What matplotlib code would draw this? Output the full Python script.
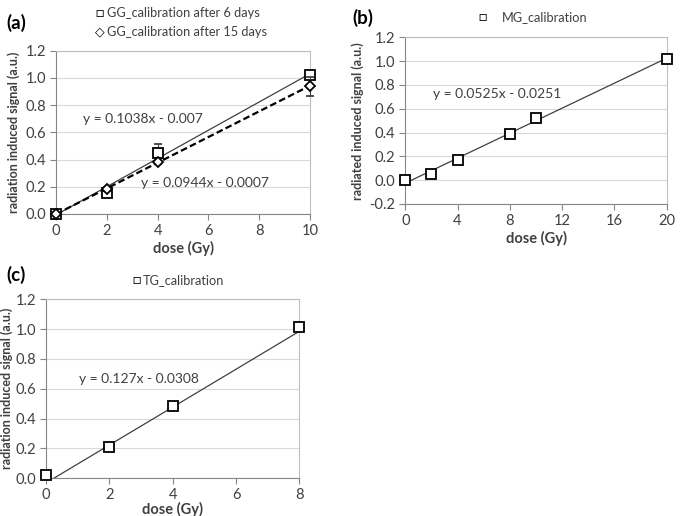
import matplotlib
matplotlib.use("Agg")
import matplotlib.pyplot as plt
import numpy as np

plt.rcParams['font.family'] = ['Lato', 'DejaVu Sans']
plt.rcParams['font.size'] = 10

# (a) GG calibration
gg_dose = [0, 2, 4, 10]
gg6_signal = [0.0, 0.155, 0.45, 1.02]
gg6_err = [0.01, 0.02, 0.065, 0.015]
gg15_signal = [0.0, 0.185, 0.38, 0.94]
gg15_err = [0.01, 0.015, 0.01, 0.07]
gg6_fit = (0.1038, -0.007)
gg15_fit = (0.0944, -0.0007)

# (b) MG calibration
mg_dose = [0, 2, 4, 8, 10, 20]
mg_signal = [0.0, 0.055, 0.17, 0.385, 0.52, 1.02]
mg_fit = (0.0525, -0.0251)

# (c) TG calibration
tg_dose = [0, 2, 4, 8]
tg_signal = [0.02, 0.21, 0.485, 1.015]
tg_fit = (0.127, -0.0308)

TXT = '#404040'
GRID = '#d9d9d9'
SPINE = '#868686'
EQ_SIZE = 10
LEG_SIZE = 9.2


def style_ax(ax, xlim, ylim, xticks, yticks, ylabel, xpad=2, ypad=4):
    ax.set_xlim(*xlim)
    ax.set_ylim(*ylim)
    ax.set_xticks(xticks)
    ax.set_yticks(yticks)
    ax.set_yticklabels([f"{v:.1f}" for v in yticks])
    ax.yaxis.grid(True, color=GRID, linewidth=0.8)
    ax.set_axisbelow(True)
    for s in ['top', 'right']:
        ax.spines[s].set_color('#bfbfbf')
        ax.spines[s].set_linewidth(0.8)
    for s in ['left', 'bottom']:
        ax.spines[s].set_color(SPINE)
        ax.spines[s].set_linewidth(0.8)
    ax.tick_params(direction='out', length=4, width=0.8, color=SPINE,
                   labelcolor=TXT, labelsize=10.6, pad=3)
    ax.set_xlabel('dose (Gy)', fontweight='bold', color=TXT, fontsize=10.5, labelpad=xpad)
    ax.set_ylabel(ylabel, fontweight='bold', color=TXT, fontsize=9, labelpad=ypad)


def fit_line(ax, fit, x0, x1, **kw):
    xs = np.array([x0, x1])
    ax.plot(xs, fit[0] * xs + fit[1], **kw)


fig = plt.figure(figsize=(6.85, 5.16), dpi=100)

mk = dict(marker='s', markersize=7, markerfacecolor='white', markeredgecolor='black',
          markeredgewidth=1.3, linestyle='none', clip_on=False)

# ---- (a)
ax1 = fig.add_axes([0.0818, 0.5853, 0.3708, 0.3164])
fit_line(ax1, gg6_fit, 0, 10, color='#404040', linewidth=0.9)
fit_line(ax1, gg15_fit, 0, 10, color='black', linewidth=1.6, linestyle=(0, (3, 1.5)))
ax1.errorbar(gg_dose, gg6_signal, yerr=gg6_err, ecolor='#404040', elinewidth=0.8,
             capsize=3, capthick=0.8, zorder=3, **mk)
mk_d = dict(mk)
mk_d.update(marker='D', markersize=5.5)
ax1.errorbar(gg_dose, gg15_signal, yerr=gg15_err, ecolor='#404040', elinewidth=0.8,
             capsize=3, capthick=0.8, zorder=4, **mk_d)
style_ax(ax1, (0, 10), (0, 1.2), [0, 2, 4, 6, 8, 10], [0, 0.2, 0.4, 0.6, 0.8, 1.0, 1.2],
         'radiation induced signal (a.u.)')
ax1.text(3.43, 0.70, 'y = 0.1038x - 0.007', ha='center', va='center', color=TXT, fontsize=EQ_SIZE)
ax1.text(5.87, 0.225, 'y = 0.0944x - 0.0007', ha='center', va='center', color=TXT, fontsize=EQ_SIZE)
fig.text(0.010, 0.955, '(a)', fontweight='bold', fontsize=13.5, va='center')
fig.text(0.146, 0.975, '\u25a1', fontsize=10, va='center', ha='center')
fig.text(0.156, 0.975, 'GG_calibration after 6 days', color=TXT, va='center', fontsize=LEG_SIZE)
fig.text(0.146, 0.938, '\u25c7', fontsize=9, va='center', ha='center', family=['DejaVu Sans'])
fig.text(0.156, 0.938, 'GG_calibration after 15 days', color=TXT, va='center', fontsize=LEG_SIZE)

# ---- (b)
ax2 = fig.add_axes([0.5917, 0.6047, 0.3816, 0.3230])
fit_line(ax2, mg_fit, 0, 20, color='#404040', linewidth=0.9)
ax2.plot(mg_dose, mg_signal, zorder=3, **mk)
style_ax(ax2, (0, 20), (-0.2, 1.2), [0, 4, 8, 12, 16, 20],
         [-0.2, 0, 0.2, 0.4, 0.6, 0.8, 1.0, 1.2], 'radiated induced signal (a.u.)')
ax2.text(7.0, 0.724, 'y = 0.0525x - 0.0251', ha='center', va='center', color=TXT, fontsize=EQ_SIZE)
fig.text(0.515, 0.966, '(b)', fontweight='bold', fontsize=13.5, va='center')
fig.text(0.705, 0.967, '\u25a1', fontsize=10, va='center', ha='center')
fig.text(0.733, 0.967, 'MG_calibration', color=TXT, va='center', fontsize=LEG_SIZE)

# ---- (c)
ax3 = fig.add_axes([0.0672, 0.0730, 0.3698, 0.3470])
fit_line(ax3, tg_fit, 0, 8, color='#404040', linewidth=0.9)
ax3.plot(tg_dose, tg_signal, zorder=3, **mk)
style_ax(ax3, (0, 8), (0, 1.2), [0, 2, 4, 6, 8], [0, 0.2, 0.4, 0.6, 0.8, 1.0, 1.2],
         'radiation induced signal (a.u.)', xpad=0, ypad=2)
ax3.text(2.94, 0.666, 'y = 0.127x - 0.0308', ha='center', va='center', color=TXT, fontsize=EQ_SIZE)
fig.text(0.010, 0.467, '(c)', fontweight='bold', fontsize=13.5, va='center')
fig.text(0.199, 0.457, '\u25a1', fontsize=10, va='center', ha='center')
fig.text(0.208, 0.457, 'TG_calibration', color=TXT, va='center', fontsize=LEG_SIZE)

fig.savefig('out.png', dpi=100)
